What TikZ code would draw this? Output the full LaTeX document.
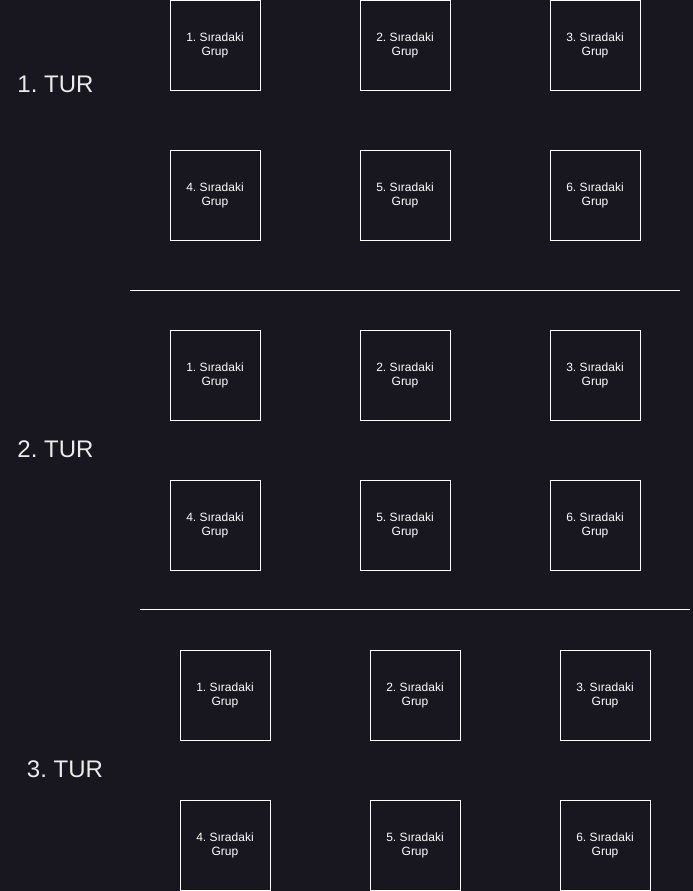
\documentclass[tikz,border=0pt]{standalone}
\usepackage{fontspec}
\setmainfont{Liberation Sans}
\usetikzlibrary{positioning}
\definecolor{bgdark}{HTML}{18161E}
\frenchspacing

\begin{document}
\begin{tikzpicture}[
  x=1pt, y=-1pt,
  every node/.style={text=white},
  grup/.style={rectangle,draw=white,line width=0.9pt,minimum size=90pt,inner sep=0pt,outer sep=0pt,
    align=center,font=\fontsize{12}{14}\selectfont},
  tur/.style={inner sep=0pt,font=\fontsize{24}{28}\selectfont,text=white!92!black},
  sep/.style={draw=white,line width=0.9pt}
]

% BACKGROUND
\fill[bgdark] (0,0) rectangle (693,891);
\useasboundingbox (0,0) rectangle (693,891);

% 1. TUR
\node[tur] (T1) at (55.5,84) {1. TUR};
\node[grup] (A1) at (215,45) {1. Sıradaki\\Grup};
\node[grup] (A2) [right=100pt of A1] {2. Sıradaki\\Grup};
\node[grup] (A3) [right=100pt of A2] {3. Sıradaki\\Grup};
\node[grup] (A4) [below=60pt of A1] {4. Sıradaki\\Grup};
\node[grup] (A5) [right=100pt of A4] {5. Sıradaki\\Grup};
\node[grup] (A6) [right=100pt of A5] {6. Sıradaki\\Grup};

% SEPARATOR
\coordinate (S1l) at (130,290);
\coordinate (S1r) at (680,290);
\draw[sep] (S1l) -- (S1r);

% 2. TUR
\node[tur] (T2) at (55.5,449) {2. TUR};
\node[grup] (B1) at (215,375) {1. Sıradaki\\Grup};
\node[grup] (B2) [right=100pt of B1] {2. Sıradaki\\Grup};
\node[grup] (B3) [right=100pt of B2] {3. Sıradaki\\Grup};
\node[grup] (B4) [below=60pt of B1] {4. Sıradaki\\Grup};
\node[grup] (B5) [right=100pt of B4] {5. Sıradaki\\Grup};
\node[grup] (B6) [right=100pt of B5] {6. Sıradaki\\Grup};

% SEPARATOR
\coordinate (S2l) at (140,609.5);
\coordinate (S2r) at (690,609.5);
\draw[sep] (S2l) -- (S2r);

% 3. TUR
\node[tur] (T3) at (65,769) {3. TUR};
\node[grup] (C1) at (225,695) {1. Sıradaki\\Grup};
\node[grup] (C2) [right=100pt of C1] {2. Sıradaki\\Grup};
\node[grup] (C3) [right=100pt of C2] {3. Sıradaki\\Grup};
\node[grup] (C4) [below=60pt of C1] {4. Sıradaki\\Grup};
\node[grup] (C5) [right=100pt of C4] {5. Sıradaki\\Grup};
\node[grup] (C6) [right=100pt of C5] {6. Sıradaki\\Grup};

\end{tikzpicture}
\end{document}
